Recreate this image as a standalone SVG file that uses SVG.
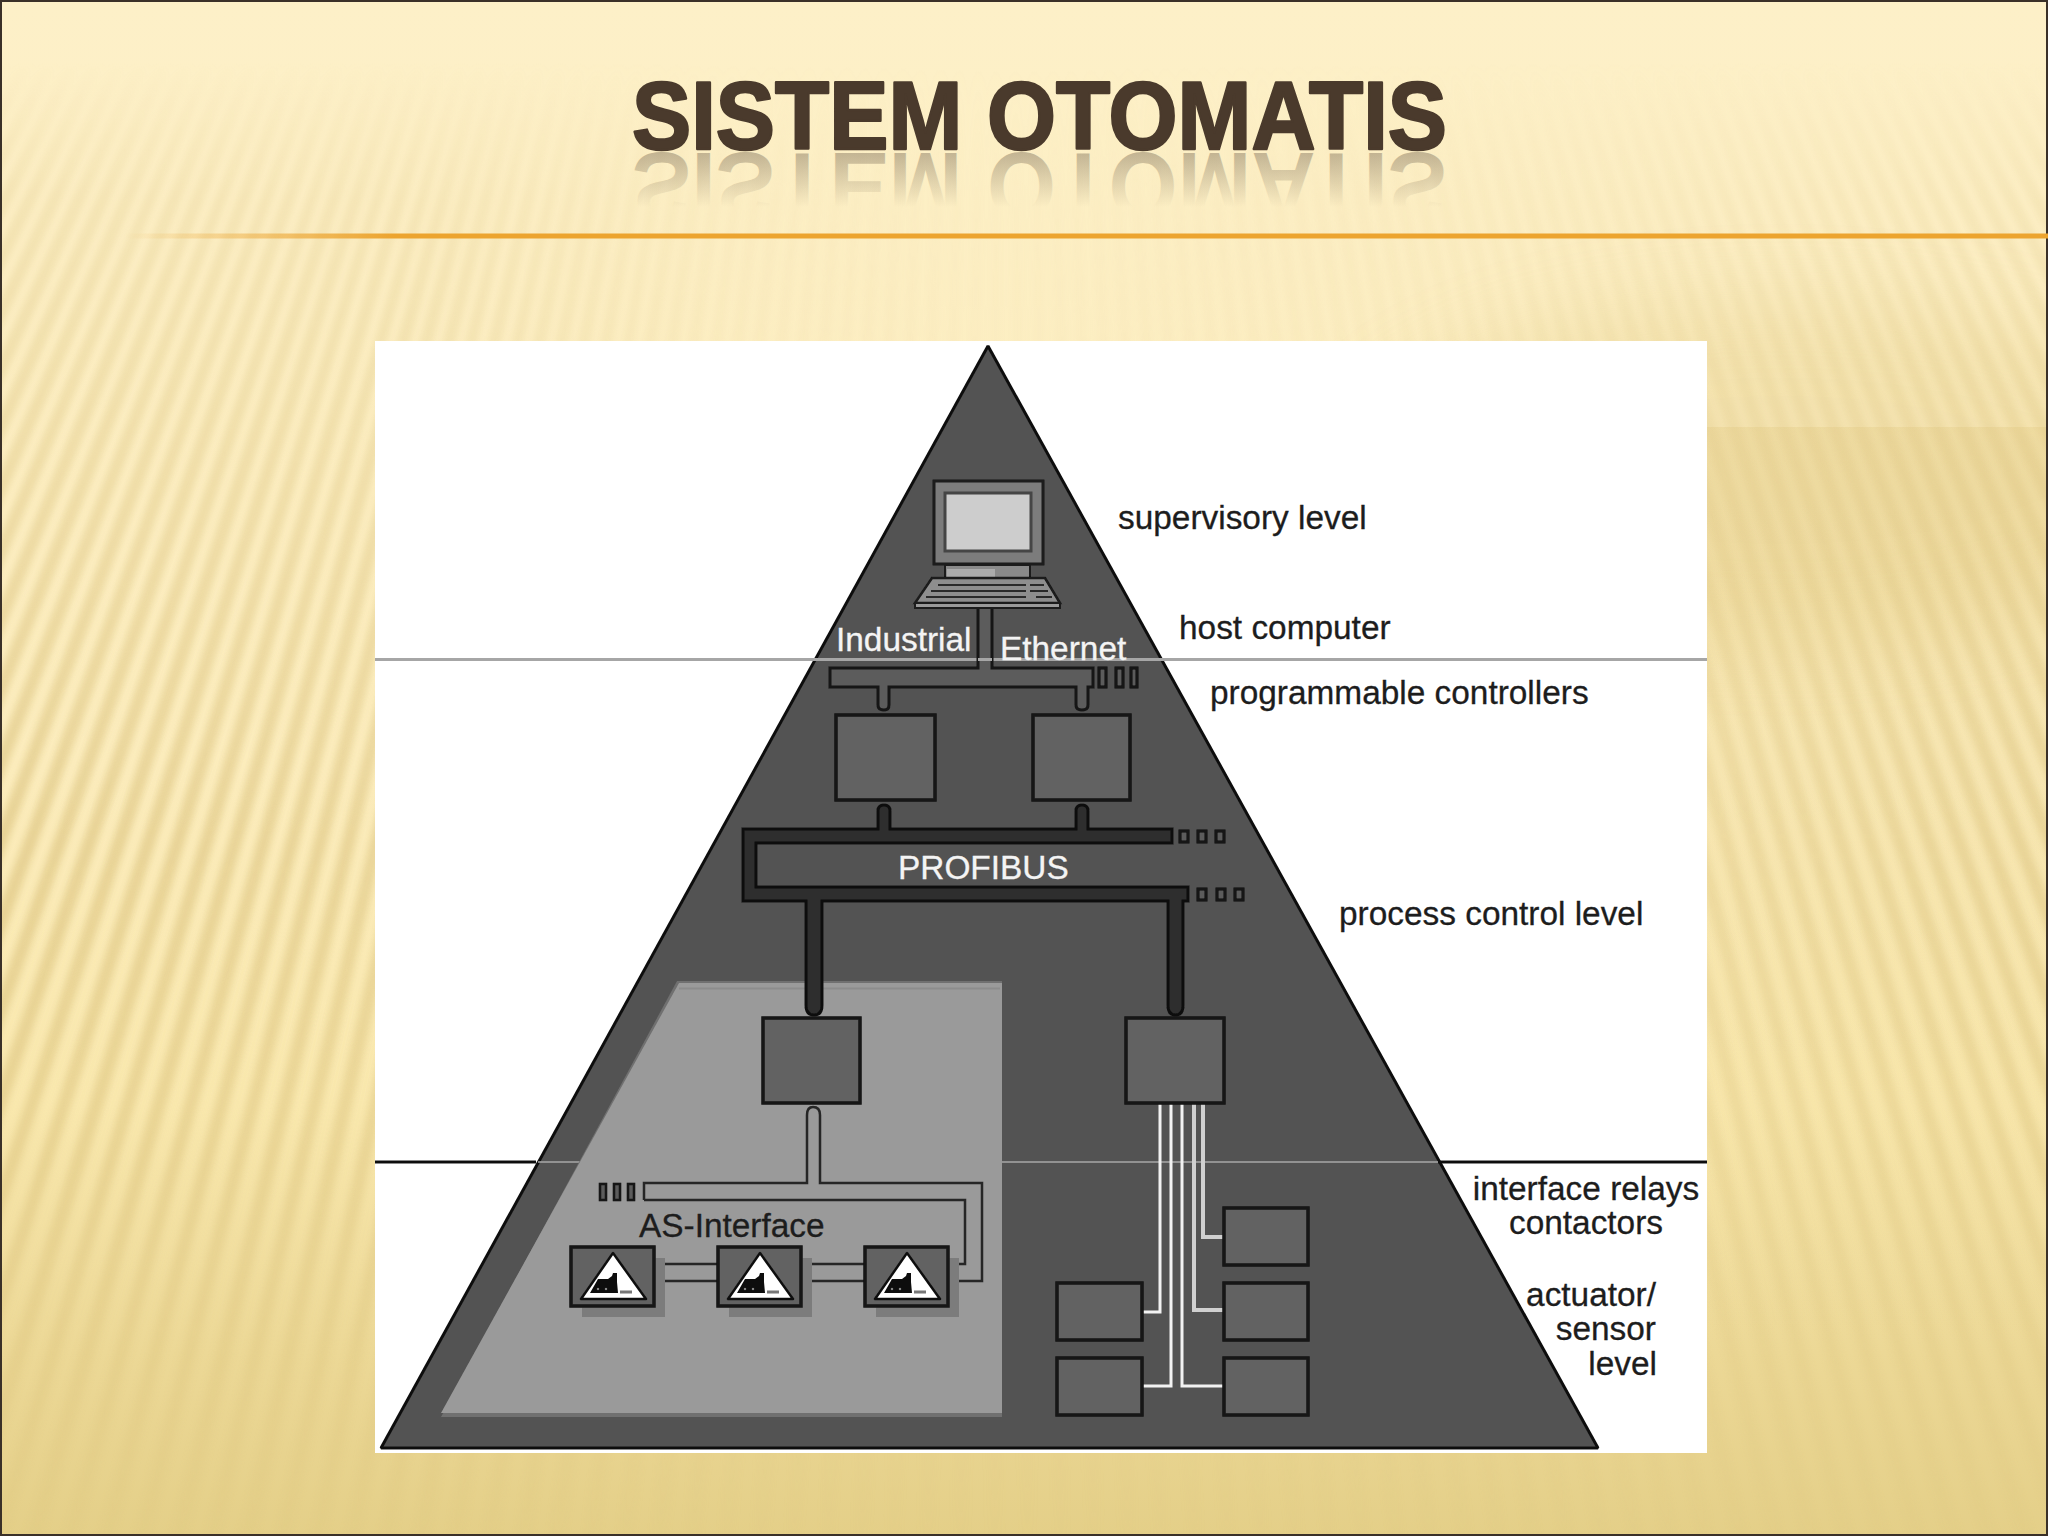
<svg xmlns="http://www.w3.org/2000/svg" xmlns:xlink="http://www.w3.org/1999/xlink" width="2048" height="1536" viewBox="0 0 2048 1536">
<style>
text{font-family:"Liberation Sans",Arial,sans-serif}
.lbl{font-size:33.4px;fill:#1d1d1d;stroke:#1d1d1d;stroke-width:.3}
.wht{font-size:33.4px;fill:#f4f4f4;stroke:#f4f4f4;stroke-width:.3}
.box{fill:#626262;stroke:#161616;stroke-width:3.5}
.tick{fill:#5c5c5c;stroke:#141414;stroke-width:3.2}
.as{fill:none;stroke:#262626;stroke-width:2.5}
.wire{fill:none;stroke:#f2f2f2;stroke-width:3}
.wireg{fill:none;stroke:#d0d0d0;stroke-width:4}
</style>
<defs>
<linearGradient id="bg" x1="0" y1="0" x2="0" y2="1">
<stop offset="0" stop-color="#fdf0c8"/><stop offset=".5" stop-color="#fcedbd"/><stop offset=".72" stop-color="#f9e8ae"/><stop offset=".88" stop-color="#ecd896"/><stop offset="1" stop-color="#e4cf88"/>
</linearGradient>
<linearGradient id="hfade" x1="0" y1="0" x2="1" y2="0">
<stop offset="0" stop-color="#fff"/><stop offset=".2" stop-color="#ddd"/><stop offset=".36" stop-color="#444"/><stop offset=".5" stop-color="#222"/><stop offset=".7" stop-color="#555"/><stop offset="1" stop-color="#ccc"/>
</linearGradient>
<linearGradient id="vfade" x1="0" y1="0" x2="0" y2="1">
<stop offset=".04" stop-color="#000"/><stop offset=".13" stop-color="#666"/><stop offset=".55" stop-color="#fff"/><stop offset=".75" stop-color="#ccc"/><stop offset="1" stop-color="#222"/>
</linearGradient>
<mask id="mh" maskUnits="userSpaceOnUse" x="0" y="0" width="2048" height="1536"><rect width="2048" height="1536" fill="url(#hfade)"/></mask>
<mask id="mv" maskUnits="userSpaceOnUse" x="0" y="0" width="2048" height="1536"><rect width="2048" height="1536" fill="url(#vfade)"/></mask>
<filter id="b4" filterUnits="userSpaceOnUse" x="0" y="0" width="2048" height="1536"><feGaussianBlur stdDeviation="3.5"/></filter>
<filter id="b40" filterUnits="userSpaceOnUse" x="0" y="0" width="2048" height="1536"><feGaussianBlur stdDeviation="40"/></filter>
<filter id="soft" filterUnits="userSpaceOnUse" x="0" y="0" width="2048" height="1536"><feGaussianBlur stdDeviation="0.6"/></filter>
<linearGradient id="panel" x1="0" y1="427" x2="0" y2="1350" gradientUnits="userSpaceOnUse">
<stop offset="0" stop-color="#d8bc6a" stop-opacity=".22"/><stop offset="1" stop-color="#d8bc6a" stop-opacity="0"/>
</linearGradient>
<linearGradient id="rule" x1="125" y1="0" x2="2048" y2="0" gradientUnits="userSpaceOnUse">
<stop offset="0" stop-color="#eca42f" stop-opacity="0"/><stop offset=".14" stop-color="#eca42f"/><stop offset="1" stop-color="#eca42f"/>
</linearGradient>
<linearGradient id="refl" x1="0" y1="149" x2="0" y2="95" gradientUnits="userSpaceOnUse">
<stop offset="0" stop-color="#4a3a2c" stop-opacity=".32"/><stop offset="1" stop-color="#4a3a2c" stop-opacity="0"/>
</linearGradient>
<g id="sensor">
<rect x="11" y="11" width="83" height="59" fill="#7b7b7b"/>
<rect width="83" height="59" class="box"/>
<polygon points="42,6 10,52 75,52" fill="#fff" stroke="#111" stroke-width="2.5" stroke-linejoin="round"/>
<path d="M19 46L27 32H37L41 29L42 26H46V35L47 46Z" fill="#0c0c0c"/>
<circle cx="27" cy="42" r="1.200" fill="#888"/><circle cx="35" cy="42" r="1.200" fill="#888"/>
<rect x="49" y="43.500" width="12" height="3" fill="#777"/>
</g>
</defs>

<g id="background">
<rect width="2048" height="1536" fill="url(#bg)"/>
<ellipse cx="1780" cy="470" rx="430" ry="170" fill="#d8bc6a" opacity=".2" filter="url(#b40)"/>
<rect x="1600" y="427" width="448" height="1109" fill="url(#panel)"/>
<g mask="url(#mv)"><g mask="url(#mh)"><g filter="url(#b4)">
<circle cx="1000" cy="-1800" r="2700" fill="none" stroke="#d4ba70" stroke-opacity=".5" stroke-width="3700" stroke-dasharray="13.5 13.5"/>
</g></g></g>
<rect x="1" y="1" width="2046" height="1534" fill="none" stroke="#3a3028" stroke-width="2"/>
</g>

<g id="title">
<text transform="translate(0,302) scale(1,-1)" x="632" y="149" font-size="96" font-weight="700" fill="url(#refl)" textLength="815" lengthAdjust="spacingAndGlyphs">SISTEM OTOMATIS</text>
<text x="632" y="149" font-size="96" font-weight="700" fill="#4a3a2c" stroke="#4a3a2c" stroke-width="2.500" stroke-linejoin="round" textLength="815" lengthAdjust="spacingAndGlyphs">SISTEM OTOMATIS</text>
<rect x="125" y="233.500" width="1923" height="5" fill="url(#rule)"/>
</g>

<rect id="picture" x="375" y="341" width="1332" height="1112" fill="#fff"/>

<g id="pyramid" filter="url(#soft)">
<polygon points="988,346 381,1448 1598,1448" fill="#525252" stroke="#111" stroke-width="3" stroke-linejoin="bevel"/>
<path d="M375 659.500H1707" stroke="#a6a6a6" stroke-width="3" fill="none"/>
<path d="M375 1162H536" stroke="#111" stroke-width="3"/>
<path d="M1438 1162H1707" stroke="#111" stroke-width="3"/>
<path d="M538 1162H1438" stroke="#a8a8a8" stroke-width="1.500"/>
<g id="as-zone">
<polygon points="677,981 1002,981 1002,1417 441,1417" fill="#6f6f6f"/>
<polygon points="679,983 1002,983 1002,1413 441,1413" fill="#9a9a9a"/>
<path d="M679 988.500H1000" stroke="#8c8c8c" stroke-width="2"/>
</g>
</g>

<g id="connectors" filter="url(#soft)">
<path id="ethernet-bus" d="M978 608V668H830V687H878V705Q878 710 884 710Q889 710 889 705V687H1076V705Q1076 710 1082 710Q1088 710 1088 705V687H1093V668H992V608" fill="#5c5c5c" stroke="#161616" stroke-width="3"/>
<path d="M978 659.500H992" stroke="#a6a6a6" stroke-width="3"/>
<g id="ethernet-ticks">
<rect x="1099" y="668" width="7" height="19" class="tick"/><rect x="1116" y="668" width="7" height="19" class="tick"/><rect x="1131" y="668" width="6" height="19" class="tick"/>
</g>
<path id="profibus-bus" d="M743 829H878V811Q878 805 884 805Q890 805 890 811V829H1076V811Q1076 805 1082 805Q1088 805 1088 811V829H1172V843H756V887H1188V901H1183V1005Q1183 1015 1175.500 1015Q1168 1015 1168 1005V901H822V1005Q822 1015 814 1015Q806 1015 806 1005V901H743Z" fill="#2f2f2f" stroke="#111" stroke-width="3"/>
<g id="profibus-ticks">
<rect x="1180" y="831" width="8" height="11" class="tick"/><rect x="1198" y="831" width="8" height="11" class="tick"/><rect x="1216" y="831" width="8" height="11" class="tick"/>
<rect x="1198" y="889" width="8" height="11" class="tick"/><rect x="1217" y="889" width="8" height="11" class="tick"/><rect x="1235" y="889" width="8" height="11" class="tick"/>
</g>
<path id="as-bus" class="as" d="M644 1200V1183H807V1115Q807 1107 813 1107Q820 1107 820 1115V1183H982V1281H948M644 1200H965V1264H948"/>
<path id="as-links" class="as" d="M654 1264H717M654 1281H717M802 1264H864M802 1281H864"/>
<g id="as-ticks">
<rect x="600" y="1184" width="6" height="16" class="tick" style="stroke-width:2.500"/><rect x="614" y="1184" width="6" height="16" class="tick" style="stroke-width:2.500"/><rect x="628" y="1184" width="6" height="16" class="tick" style="stroke-width:2.500"/>
</g>
<g id="wires">
<path class="wire" d="M1160 1103V1312H1142" stroke-width="2.500"/>
<path class="wire" d="M1171 1103V1386H1142"/>
<path class="wire" d="M1182 1103V1386H1223"/>
<path class="wireg" d="M1194 1103V1310H1223"/>
<path class="wireg" d="M1203 1103V1237H1223"/>
</g>
</g>

<g id="supervisory-computer" filter="url(#soft)">
<rect x="934" y="481" width="109" height="83" fill="#7c7c7c" stroke="#1a1a1a" stroke-width="3"/>
<rect x="945" y="493" width="86" height="58" fill="#cdcdcd" stroke="#444" stroke-width="3"/>
<rect x="945" y="565" width="85" height="13" fill="#8a8a8a" stroke="#1a1a1a" stroke-width="2"/>
<rect x="947" y="569" width="48" height="8" fill="#acacac"/>
<polygon points="932,578 1045,578 1060,603 915,603" fill="#8e8e8e" stroke="#1a1a1a" stroke-width="2.500"/>
<rect x="915" y="603" width="145" height="5" fill="#9a9a9a" stroke="#1a1a1a" stroke-width="2"/>
<path d="M938 585H1026M1030 585H1044M931 591H1026M1030 591H1048M926 597H1026M1036 597H1052" stroke="#2a2a2a" stroke-width="2" fill="none"/>
</g>

<g id="plc-1" filter="url(#soft)"><rect x="836" y="715" width="99" height="85" class="box"/></g>
<g id="plc-2" filter="url(#soft)"><rect x="1033" y="715" width="97" height="85" class="box"/></g>
<g id="gateway-as" filter="url(#soft)"><rect x="763" y="1018" width="97" height="85" class="box"/></g>
<g id="gateway-io" filter="url(#soft)"><rect x="1126" y="1018" width="98" height="85" class="box"/></g>
<g id="io-1" filter="url(#soft)"><rect x="1224" y="1208" width="84" height="57" class="box"/></g>
<g id="io-2" filter="url(#soft)"><rect x="1224" y="1283" width="84" height="57" class="box"/></g>
<g id="io-3" filter="url(#soft)"><rect x="1224" y="1358" width="84" height="57" class="box"/></g>
<g id="io-4" filter="url(#soft)"><rect x="1057" y="1283" width="85" height="57" class="box"/></g>
<g id="io-5" filter="url(#soft)"><rect x="1057" y="1358" width="85" height="57" class="box"/></g>
<g id="sensor-1" filter="url(#soft)"><use href="#sensor" x="571" y="1247"/></g>
<g id="sensor-2" filter="url(#soft)"><use href="#sensor" x="718" y="1247"/></g>
<g id="sensor-3" filter="url(#soft)"><use href="#sensor" x="865" y="1247"/></g>

<g id="labels">
<text class="lbl" x="1118" y="529">supervisory level</text>
<text class="lbl" x="1179" y="639">host computer</text>
<text class="lbl" x="1210" y="704">programmable controllers</text>
<text class="lbl" x="1339" y="925">process control level</text>
<text class="lbl" x="1586" y="1200" text-anchor="middle">interface relays</text>
<text class="lbl" x="1586" y="1234" text-anchor="middle">contactors</text>
<text class="lbl" x="1656" y="1306" text-anchor="end">actuator/</text>
<text class="lbl" x="1656" y="1340" text-anchor="end">sensor</text>
<text class="lbl" x="1657" y="1375" text-anchor="end">level</text>
<text class="wht" x="836" y="651">Industrial</text>
<text class="wht" x="1000" y="660">Ethernet</text>
<text class="wht" x="898" y="879">PROFIBUS</text>
<text class="lbl" x="639" y="1237">AS-Interface</text>
</g>
</svg>
